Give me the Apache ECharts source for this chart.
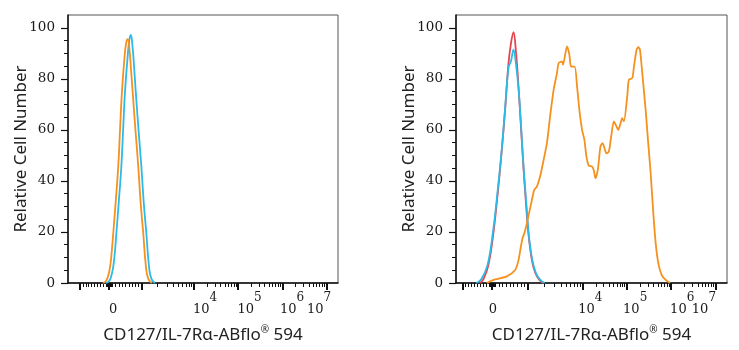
<!DOCTYPE html>
<html><head><meta charset="utf-8">
<script src="https://cdn.jsdelivr.net/npm/echarts@6/dist/echarts.min.js"></script>
<style>html,body{margin:0;padding:0;background:#fff}#c{width:739px;height:350px}</style>
</head><body><div id="c"></div>
<script>
// x values are positions on the biexponential display axis (10^n sits at n)
const leftOrange = [[1.941,0],[2.009,0.8],[2.054,2.5],[2.099,6],[2.133,11],[2.174,19.5],[2.230,32],[2.287,45.6],[2.330,61],[2.371,75],[2.427,88],[2.466,94],[2.500,95.5],[2.538,92],[2.574,84],[2.613,75],[2.676,60],[2.740,45.6],[2.796,31],[2.853,19.5],[2.914,6.4],[2.970,1.5],[3.050,0]];
const leftCyan = [[2.01,0],[2.08,0.8],[2.125,2.5],[2.17,6],[2.205,11],[2.245,19.5],[2.30,32],[2.357,45.6],[2.40,61],[2.44,75],[2.497,88],[2.536,95],[2.57,97.2],[2.608,93],[2.644,85],[2.683,75],[2.746,60],[2.81,45.6],[2.866,31],[2.923,19.5],[2.984,6.4],[3.04,1.5],[3.12,0]];
const rightRed = [[1.69,0],[1.77,1.5],[1.88,7],[1.993,19.5],[2.107,38],[2.182,52],[2.258,68],[2.333,86],[2.39,94],[2.446,98.3],[2.50,91],[2.559,77],[2.612,62],[2.672,45],[2.733,30],[2.785,19],[2.861,9],[2.936,4],[3.03,1.2],[3.12,0]];
const rightCyan = [[1.61,0],[1.72,1.5],[1.86,7],[1.98,19.5],[2.10,38],[2.18,52],[2.255,68],[2.333,84.3],[2.39,87],[2.446,91.4],[2.50,86],[2.56,76],[2.615,62],[2.675,45],[2.74,30],[2.79,19],[2.87,9],[2.95,4],[3.05,1.2],[3.15,0]];
const rightOrange = [[1.843,0],[2.031,1.4],[2.295,2.6],[2.484,5.1],[2.559,8.9],[2.61,14],[2.65,17.5],[2.70,20],[2.748,23.4],[2.861,32.5],[2.914,36.5],[2.974,37.8],[3.05,42],[3.125,48.2],[3.200,54.8],[3.276,65.9],[3.351,75.7],[3.427,82.2],[3.464,86.1],[3.540,86.8],[3.563,85.5],[3.653,92.7],[3.706,89.5],[3.744,84.8],[3.826,84.8],[3.879,77.0],[3.940,66.5],[3.992,60.0],[4.045,56.1],[4.091,49.5],[4.143,46.0],[4.219,45.6],[4.26,44],[4.294,41.0],[4.347,44.3],[4.407,53.5],[4.453,54.8],[4.498,52.8],[4.543,50.8],[4.596,51.5],[4.649,57.4],[4.709,63.3],[4.769,61.3],[4.807,60.0],[4.860,62.6],[4.898,64.6],[4.935,63.3],[5.011,73.1],[5.048,79.6],[5.124,80.3],[5.162,84.8],[5.222,91.4],[5.260,92.4],[5.297,91.4],[5.350,82.2],[5.426,67.8],[5.478,56.1],[5.539,43.0],[5.599,27.3],[5.652,15.6],[5.712,7.7],[5.788,3.1],[5.878,1.2],[5.976,0]];

const yTicks = [0, 20, 40, 60, 80, 100];
const yMinorTicks = [5,10,15,25,30,35,45,50,55,65,70,75,85,90,95];
const xMajorRaw = [-1000, 0, 1000, 1e4, 1e5, 1e6, 1e7];
const xLabelText = ['0', '10{s|4}', '10{s|5}', '10{s|6}', '10{s|7}'];
const xLabelPosLeft = [2.17, 4.25, 5.26, 6.22, 6.83];
const xLabelPosRight = [1.98, 4.18, 5.19, 6.25, 6.74];
const xTitle = '{a|CD127/IL-7Rα-ABflo}{r|®}{a| 594}';
const yTitle = 'Relative Cell Number';

const X_MIN = 1.15, X_MAX = 7.26;

// biexponential display transform (per panel) used for tick placement
const biexParams = [
  {zero: 2.08, neg: 0.66, pos: 0.745, dec3: 1.175},
  {zero: 1.96, neg: 0.66, pos: 0.813, dec3: 1.227}
];
function biex(v, p) {
  if (v < 0) return p.zero + p.neg * v / 1000;
  if (v <= 1000) return p.zero + p.pos * v / 1000;
  if (v <= 10000) return p.zero + p.pos + p.dec3 * Math.log10(v / 1000);
  return Math.log10(v);
}
const minorRaw = [];
for (let k = 1; k <= 9; k++) { minorRaw.push(k*10, -k*10, k*100, -k*100); }
for (let e = 3; e <= 6; e++) for (let k = 2; k <= 9; k++) minorRaw.push(k * Math.pow(10, e));

const serif = 'DejaVu Serif';
const sans = 'Noto Sans';
const rects = [
  {left: 68, top: 15, width: 270, height: 268},
  {left: 456, top: 15, width: 271, height: 268}
];
const labelPos = [xLabelPosLeft, xLabelPosRight];

function xLabelCfg(lp, values) {
  return {
    customValues: values, margin: 9, color: '#1a1a1a', fontFamily: serif, fontSize: 13, lineHeight: 35,
    hideOverlap: false, showMinLabel: true, showMaxLabel: true,
    formatter: v => { const i = lp.findIndex(p => Math.abs(p - v) < 1e-6); return i >= 0 ? xLabelText[i] : ''; },
    rich: {s: {fontFamily: serif, fontSize: 12, lineHeight: 12, verticalAlign: 'top', color: '#1a1a1a'}}
  };
}

const grids = [], xAxes = [], yAxes = [];
// main grids 0,1
rects.forEach((g, gi) => {
  const lp = labelPos[gi];
  grids.push(Object.assign({show: true, borderColor: '#555', borderWidth: 1, backgroundColor: 'transparent', containLabel: false, outerBoundsMode: 'none'}, g));
  xAxes.push({
    type: 'value', gridIndex: gi, min: X_MIN, max: X_MAX, position: 'bottom',
    axisLine: {onZero: false, lineStyle: {color: '#111', width: 1.5}},
    axisTick: {customValues: xMajorRaw.map(v => biex(v, biexParams[gi])), length: 7, lineStyle: {color: '#111', width: 2}},
    axisLabel: xLabelCfg(lp, [lp[0], lp[1], lp[2], lp[4]]),
    splitLine: {show: false},
    name: xTitle, nameLocation: 'middle', nameGap: 42, nameMoveOverlap: false,
    nameTextStyle: {
      rich: {
        a: {fontFamily: sans, fontSize: 17, color: '#222', lineHeight: 21},
        r: {fontFamily: sans, fontSize: 10, color: '#222', lineHeight: 10, verticalAlign: 'top'}
      }
    }
  });
  yAxes.push({
    type: 'value', gridIndex: gi, min: 0, max: 105, position: 'left',
    axisLine: {show: true, onZero: false, lineStyle: {color: '#111', width: 1.5}},
    axisTick: {show: true, customValues: yTicks, length: 7, lineStyle: {color: '#111', width: 1.2}},
    axisLabel: {customValues: yTicks, margin: 13, color: '#1a1a1a', fontFamily: serif, fontSize: 13.5},
    splitLine: {show: false},
    name: yTitle, nameLocation: 'middle', nameGap: 38, nameMoveOverlap: false,
    nameTextStyle: {fontFamily: sans, fontSize: 17, color: '#222'}
  });
});
// overlay grids 2,3 carry the minor ticks (and the 10^6 label, kept apart so it is not hidden)
rects.forEach((g, gi) => {
  const lp = labelPos[gi];
  grids.push(Object.assign({show: false, containLabel: false, outerBoundsMode: 'none'}, g));
  xAxes.push({
    type: 'value', gridIndex: gi + 2, min: X_MIN, max: X_MAX, position: 'bottom',
    axisLine: {show: false, onZero: false},
    axisTick: {show: true, customValues: minorRaw.map(v => biex(v, biexParams[gi])), length: 4, lineStyle: {color: '#111', width: 1}},
    axisLabel: xLabelCfg(lp, [lp[3]]), splitLine: {show: false}
  });
  yAxes.push({
    type: 'value', gridIndex: gi + 2, min: 0, max: 105, position: 'left',
    axisLine: {show: false, onZero: false},
    axisTick: {show: true, customValues: yMinorTicks, length: 4, lineStyle: {color: '#111', width: 1}},
    axisLabel: {show: false}, splitLine: {show: false}
  });
});

const ORANGE = '#f5911e', CYAN = '#2cbbe9', RED = '#e8434b';
function line(data, color, panel, z, sm) {
  return {
    type: 'line', data: data, xAxisIndex: panel, yAxisIndex: panel,
    showSymbol: false, smooth: sm, z: z, silent: true,
    lineStyle: {color: color, width: 1.8}
  };
}

const chart = echarts.init(document.getElementById('c'), null, {renderer: 'canvas'});
chart.setOption({
  animation: false,
  backgroundColor: '#fff',
  grid: grids,
  xAxis: xAxes,
  yAxis: yAxes,
  series: [
    line(leftCyan, CYAN, 0, 2, 0.5),
    line(leftOrange, ORANGE, 0, 3, 0.5),
    line(rightRed, RED, 1, 2, 0.4),
    line(rightCyan, CYAN, 1, 3, 0.4),
    line(rightOrange, ORANGE, 1, 4, 0.25)
  ]
});
</script>
</body></html>
